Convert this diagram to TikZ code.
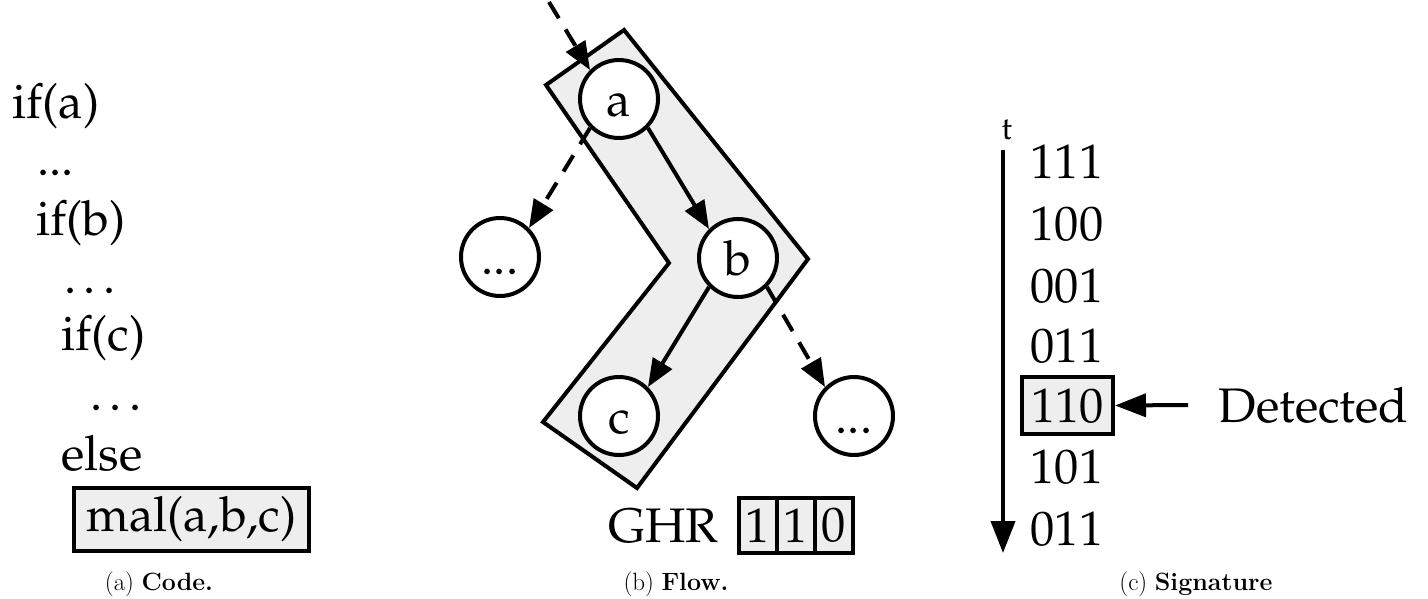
\documentclass[tikz,border=0pt]{standalone}
\usetikzlibrary{arrows.meta}
\definecolor{lightfill}{RGB}{238,238,238}
% Palatino text face (URW Palladio, OT1)
\newcommand\palfont{\fontencoding{OT1}\fontfamily{ppl}\selectfont}
\newcommand\tallstrut{\vphantom{b}}
\begin{document}
\begin{tikzpicture}[x=1pt,y=-1pt,
  every node/.style={font=\palfont\fontsize{48.5}{58}\selectfont},
  codeline/.style={anchor=base west},
  capt/.style={anchor=base, font=\normalfont\fontsize{25}{30}\selectfont},
  vtx/.style={circle, draw, line width=4pt, fill=white, minimum size=78pt, inner sep=0pt},
  boxed/.style={draw, line width=4pt, fill=lightfill, inner sep=0pt},
  edge/.style={line width=4pt, -{Triangle[length=28pt,width=22pt]}},
  dashedge/.style={edge, dash pattern=on 19pt off 13pt},
  bigedge/.style={line width=4pt, -{Triangle[length=31pt,width=23pt]}}]
\useasboundingbox (0,0) rectangle (1428,598);

% ---------- (a) code listing ----------
\node[codeline] (l1) at (9,118) {if(a)};
\node[codeline] (l2) at (34,175) {...};
\node[codeline] (l3) at (33,235) {if(b)};
\node[codeline] (l4) at (61,293) {\ldots};
\node[codeline] (l5) at (58,350) {if(c)};
\node[codeline] (l6) at (87,410) {\ldots};
\node[codeline] (l7) at (58,470) {else};
\node[boxed, minimum width=235pt, minimum height=63pt] (mal) at (191.5,519.5) {mal(a,b,c)};
\node[capt] (capa) at (159,590) {(a) \textbf{Code.}};

% ---------- (b) control flow ----------
\draw[line width=4pt, fill=lightfill]
  (624,30) -- (808,259) -- (637,488) -- (543,422) -- (669,263) -- (546,85) -- cycle;

\node[vtx] (a)  at (619,99)  {\tallstrut a};
\node[vtx] (l)  at (500,257) {\tallstrut ...};
\node[vtx] (b)  at (738,258) {\tallstrut b};
\node[vtx] (c)  at (619,416) {\tallstrut c};
\node[vtx] (r)  at (854,416) {\tallstrut ...};

\coordinate (entry) at (549,2);
\draw[dashedge] (entry) -- (a.north west);
\draw[dashedge] (a.south west) -- (l.north east);
\draw[edge] (a.south east) -- (b.north west);
\draw[edge] (b.south west) -- (c.north east);
\draw[dashedge] (b.south east) -- (r.north west);

\node[codeline] (ghr) at (605,542) {GHR};
\node[boxed, outer sep=0pt, minimum width=38pt, minimum height=55pt] (g1) at (758,525.5) {1};
\node[boxed, outer sep=0pt, minimum width=38pt, minimum height=55pt, anchor=west] (g2) at (g1.east) {1};
\node[boxed, outer sep=0pt, minimum width=38pt, minimum height=55pt, anchor=west] (g3) at (g2.east) {0};
\node[capt] (capb) at (676,590) {(b) \textbf{Flow.}};

% ---------- (c) signature over time ----------
\node[anchor=base west, font=\palfont\fontsize{32}{38}\selectfont] (t) at (998,139) {t};
\coordinate (tstart) at (1003,150);
\coordinate (tend) at (1003,553);
\draw[line width=4pt, -{Triangle[length=32pt,width=24pt]}] (tstart) -- (tend);

\node[codeline] (s1) at (1027,178) {111};
\node[codeline] (s2) at (1027,240) {100};
\node[codeline] (s3) at (1027,302) {001};
\node[codeline] (s4) at (1027,362) {011};
\node[boxed, minimum width=91pt, minimum height=57pt] (det) at (1067.5,405.5) {110};
\node[codeline] (s6) at (1027,483) {101};
\node[codeline] (s7) at (1027,545) {011};

\coordinate (dfrom) at (1188,405);
\draw[bigedge] (dfrom) -- (det.east);
\node[codeline] (dl) at (1215,422) {Detected};
\node[capt] (capc) at (1196,590) {(c) \textbf{Signature}};
\end{tikzpicture}
\end{document}
